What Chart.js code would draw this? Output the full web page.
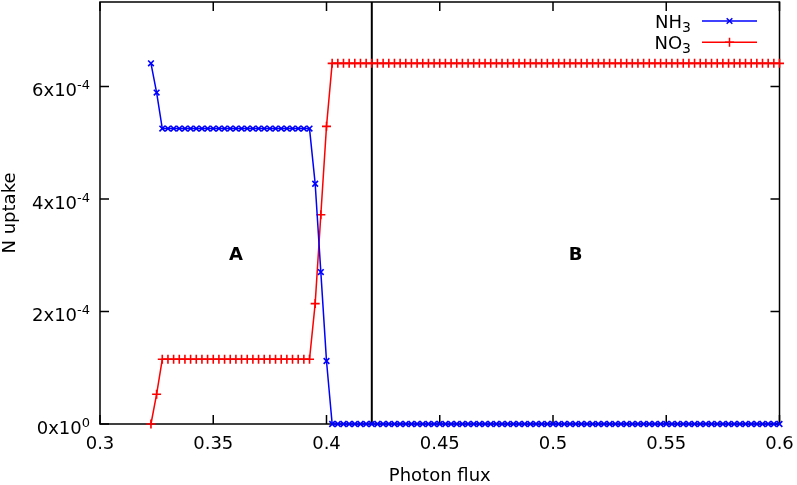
<!DOCTYPE html>
<html>
<head>
<meta charset="utf-8">
<script src="https://cdn.jsdelivr.net/npm/chart.js@4.4.0/dist/chart.umd.min.js"></script>
<style>
html, body { margin: 0; padding: 0; background: #fff; }
</style>
</head>
<body>
<canvas id="uptakeChart" width="797" height="485"></canvas>
<script>
var FONT = '"DejaVu Sans", sans-serif';

var photonFlux = [
    0.3225, 0.325, 0.3275, 0.33, 0.3325, 0.335, 0.3375, 0.34, 0.3425, 0.345,
    0.3475, 0.35, 0.3525, 0.355, 0.3575, 0.36, 0.3625, 0.365, 0.3675, 0.37,
    0.3725, 0.375, 0.3775, 0.38, 0.3825, 0.385, 0.3875, 0.39, 0.3925, 0.395,
    0.3975, 0.4, 0.4025, 0.405, 0.4075, 0.41, 0.4125, 0.415, 0.4175, 0.42,
    0.4225, 0.425, 0.4275, 0.43, 0.4325, 0.435, 0.4375, 0.44, 0.4425, 0.445,
    0.4475, 0.45, 0.4525, 0.455, 0.4575, 0.46, 0.4625, 0.465, 0.4675, 0.47,
    0.4725, 0.475, 0.4775, 0.48, 0.4825, 0.485, 0.4875, 0.49, 0.4925, 0.495,
    0.4975, 0.5, 0.5025, 0.505, 0.5075, 0.51, 0.5125, 0.515, 0.5175, 0.52,
    0.5225, 0.525, 0.5275, 0.53, 0.5325, 0.535, 0.5375, 0.54, 0.5425, 0.545,
    0.5475, 0.55, 0.5525, 0.555, 0.5575, 0.56, 0.5625, 0.565, 0.5675, 0.57,
    0.5725, 0.575, 0.5775, 0.58, 0.5825, 0.585, 0.5875, 0.59, 0.5925, 0.595,
    0.5975, 0.6
];

var nh3Uptake = [
    6.41e-4, 5.89e-4, 5.25e-4, 5.25e-4, 5.25e-4, 5.25e-4, 5.25e-4, 5.25e-4, 5.25e-4, 5.25e-4,
    5.25e-4, 5.25e-4, 5.25e-4, 5.25e-4, 5.25e-4, 5.25e-4, 5.25e-4, 5.25e-4, 5.25e-4, 5.25e-4,
    5.25e-4, 5.25e-4, 5.25e-4, 5.25e-4, 5.25e-4, 5.25e-4, 5.25e-4, 5.25e-4, 5.25e-4, 4.27e-4,
    2.70e-4, 1.12e-4, 0, 0, 0, 0, 0, 0, 0, 0,
    0, 0, 0, 0, 0, 0, 0, 0, 0, 0,
    0, 0, 0, 0, 0, 0, 0, 0, 0, 0,
    0, 0, 0, 0, 0, 0, 0, 0, 0, 0,
    0, 0, 0, 0, 0, 0, 0, 0, 0, 0,
    0, 0, 0, 0, 0, 0, 0, 0, 0, 0,
    0, 0, 0, 0, 0, 0, 0, 0, 0, 0,
    0, 0, 0, 0, 0, 0, 0, 0, 0, 0,
    0, 0
];

var no3Uptake = [
    0, 0.53e-4, 1.15e-4, 1.15e-4, 1.15e-4, 1.15e-4, 1.15e-4, 1.15e-4, 1.15e-4, 1.15e-4,
    1.15e-4, 1.15e-4, 1.15e-4, 1.15e-4, 1.15e-4, 1.15e-4, 1.15e-4, 1.15e-4, 1.15e-4, 1.15e-4,
    1.15e-4, 1.15e-4, 1.15e-4, 1.15e-4, 1.15e-4, 1.15e-4, 1.15e-4, 1.15e-4, 1.15e-4, 2.14e-4,
    3.72e-4, 5.29e-4, 6.41e-4, 6.41e-4, 6.41e-4, 6.41e-4, 6.41e-4, 6.41e-4, 6.41e-4, 6.41e-4,
    6.41e-4, 6.41e-4, 6.41e-4, 6.41e-4, 6.41e-4, 6.41e-4, 6.41e-4, 6.41e-4, 6.41e-4, 6.41e-4,
    6.41e-4, 6.41e-4, 6.41e-4, 6.41e-4, 6.41e-4, 6.41e-4, 6.41e-4, 6.41e-4, 6.41e-4, 6.41e-4,
    6.41e-4, 6.41e-4, 6.41e-4, 6.41e-4, 6.41e-4, 6.41e-4, 6.41e-4, 6.41e-4, 6.41e-4, 6.41e-4,
    6.41e-4, 6.41e-4, 6.41e-4, 6.41e-4, 6.41e-4, 6.41e-4, 6.41e-4, 6.41e-4, 6.41e-4, 6.41e-4,
    6.41e-4, 6.41e-4, 6.41e-4, 6.41e-4, 6.41e-4, 6.41e-4, 6.41e-4, 6.41e-4, 6.41e-4, 6.41e-4,
    6.41e-4, 6.41e-4, 6.41e-4, 6.41e-4, 6.41e-4, 6.41e-4, 6.41e-4, 6.41e-4, 6.41e-4, 6.41e-4,
    6.41e-4, 6.41e-4, 6.41e-4, 6.41e-4, 6.41e-4, 6.41e-4, 6.41e-4, 6.41e-4, 6.41e-4, 6.41e-4,
    6.41e-4, 6.41e-4
];

// legend names: main text + subscript
var seriesNames = [['NH', '3'], ['NO', '3']];

var xTicks = [0.3, 0.35, 0.4, 0.45, 0.5, 0.55, 0.6];
var xTickLabels = ['0.3', '0.35', '0.4', '0.45', '0.5', '0.55', '0.6'];
var yTicks = [0, 2e-4, 4e-4, 6e-4];
var yTickLabels = ['0x10', '2x10', '4x10', '6x10'];
var yTickPowers = ['0', '-4', '-4', '-4'];

var regionBoundary = 0.42;
var regionLabels = [
    { text: 'A', x: 0.36, y: 3e-4 },
    { text: 'B', x: 0.51, y: 3e-4 }
];

function toPoints(values) {
    return photonFlux.map(function (x, i) { return { x: x, y: values[i] }; });
}

function drawMarker(ctx, style, cx, cy, r) {
    ctx.beginPath();
    if (style === 'crossRot') {
        var d = r * Math.SQRT1_2;
        ctx.moveTo(cx - d, cy - d); ctx.lineTo(cx + d, cy + d);
        ctx.moveTo(cx - d, cy + d); ctx.lineTo(cx + d, cy - d);
    } else {
        ctx.moveTo(cx - r, cy); ctx.lineTo(cx + r, cy);
        ctx.moveTo(cx, cy - r); ctx.lineTo(cx, cy + r);
    }
    ctx.stroke();
}

var gnuplotLook = {
    id: 'gnuplotLook',
    beforeDatasetsDraw: function (chart) {
        var ctx = chart.ctx, a = chart.chartArea, x = chart.scales.x, y = chart.scales.y;
        ctx.save();
        ctx.strokeStyle = '#000';
        ctx.lineWidth = 1.5;

        // border and inward ticks on all sides
        ctx.strokeRect(a.left, a.top, a.right - a.left, a.bottom - a.top);
        ctx.beginPath();
        xTicks.forEach(function (v) {
            var px = x.getPixelForValue(v);
            ctx.moveTo(px, a.bottom); ctx.lineTo(px, a.bottom - 9);
            ctx.moveTo(px, a.top); ctx.lineTo(px, a.top + 9);
        });
        yTicks.forEach(function (v) {
            var py = y.getPixelForValue(v);
            ctx.moveTo(a.left, py); ctx.lineTo(a.left + 9, py);
            ctx.moveTo(a.right, py); ctx.lineTo(a.right - 9, py);
        });
        ctx.stroke();

        // line between regions A and B
        var bx = x.getPixelForValue(regionBoundary);
        ctx.lineWidth = 2;
        ctx.beginPath();
        ctx.moveTo(bx, a.top); ctx.lineTo(bx, a.bottom);
        ctx.stroke();

        ctx.fillStyle = '#000';
        ctx.font = 'bold 18px ' + FONT;
        ctx.textAlign = 'center';
        ctx.textBaseline = 'middle';
        regionLabels.forEach(function (r) {
            ctx.fillText(r.text, x.getPixelForValue(r.x), y.getPixelForValue(r.y));
        });

        // y tick labels, power of ten as superscript
        ctx.textBaseline = 'alphabetic';
        ctx.textAlign = 'left';
        yTicks.forEach(function (v, i) {
            var py = y.getPixelForValue(v);
            ctx.font = '13px ' + FONT;
            var supW = ctx.measureText(yTickPowers[i]).width;
            ctx.font = '18px ' + FONT;
            var mainW = ctx.measureText(yTickLabels[i]).width;
            var right = a.left - 10;
            ctx.fillText(yTickLabels[i], right - supW - mainW, py + 10);
            ctx.font = '13px ' + FONT;
            ctx.fillText(yTickPowers[i], right - supW, py + 3);
        });
        ctx.restore();
    },
    afterDraw: function (chart) {
        var ctx = chart.ctx;
        ctx.save();
        chart.data.datasets.forEach(function (ds, i) {
            var rowY = 21 + i * 21.3;
            ctx.fillStyle = '#000';
            ctx.textBaseline = 'alphabetic';
            ctx.textAlign = 'left';
            ctx.font = '14px ' + FONT;
            var subW = ctx.measureText(seriesNames[i][1]).width;
            ctx.font = '18px ' + FONT;
            var mainW = ctx.measureText(seriesNames[i][0]).width;
            var end = 691;
            ctx.fillText(seriesNames[i][0], end - subW - mainW, rowY + 6.5);
            ctx.font = '14px ' + FONT;
            ctx.fillText(seriesNames[i][1], end - subW, rowY + 11);

            ctx.strokeStyle = ds.borderColor;
            ctx.lineWidth = 1.5;
            ctx.beginPath();
            ctx.moveTo(702, rowY); ctx.lineTo(757, rowY);
            ctx.stroke();
            drawMarker(ctx, ds.pointStyle, 729.5, rowY, ds.pointRadius);
        });
        ctx.restore();
    }
};

var ctx = document.getElementById('uptakeChart').getContext('2d');

new Chart(ctx, {
    type: 'line',
    data: {
        datasets: [{
            label: 'NH3',
            data: toPoints(nh3Uptake),
            borderColor: '#0000ff',
            backgroundColor: '#0000ff',
            borderWidth: 1.5,
            pointStyle: 'crossRot',
            pointRadius: 4,
            pointBorderWidth: 1.6,
            pointBorderColor: '#0000ff',
            tension: 0,
            fill: false,
            clip: false
        }, {
            label: 'NO3',
            data: toPoints(no3Uptake),
            borderColor: '#ff0000',
            backgroundColor: '#ff0000',
            borderWidth: 1.5,
            pointStyle: 'cross',
            pointRadius: 4.5,
            pointBorderWidth: 1.6,
            pointBorderColor: '#ff0000',
            tension: 0,
            fill: false,
            clip: false
        }]
    },
    options: {
        responsive: false,
        animation: false,
        layout: { autoPadding: false, padding: { top: 2, right: 17.5, left: 0, bottom: 0 } },
        plugins: {
            legend: { display: false },
            tooltip: { enabled: false }
        },
        scales: {
            x: {
                type: 'linear',
                min: 0.3,
                max: 0.6,
                grid: { display: false, drawTicks: false },
                border: { display: false },
                afterBuildTicks: function (scale) {
                    scale.ticks = xTicks.map(function (v) { return { value: v }; });
                },
                afterFit: function (scale) {
                    scale.height = 61;
                    scale.paddingLeft = 0;
                    scale.paddingRight = 0;
                },
                ticks: {
                    autoSkip: false,
                    maxRotation: 0,
                    padding: 10,
                    color: '#000',
                    font: { family: FONT, size: 18 },
                    callback: function (value, index) { return xTickLabels[index]; }
                },
                title: {
                    display: true,
                    text: 'Photon flux',
                    color: '#000',
                    font: { family: FONT, size: 18, lineHeight: 1 },
                    padding: { top: 0, bottom: 0 }
                }
            },
            y: {
                min: 0,
                max: 7.5e-4,
                grid: { display: false, drawTicks: false },
                border: { display: false },
                afterBuildTicks: function (scale) {
                    scale.ticks = yTicks.map(function (v) { return { value: v }; });
                },
                afterFit: function (scale) {
                    scale.width = 100;
                    scale.paddingTop = 0;
                    scale.paddingBottom = 0;
                },
                ticks: { display: false },
                title: {
                    display: true,
                    text: 'N uptake',
                    color: '#000',
                    font: { family: FONT, size: 18, lineHeight: 1 },
                    padding: { top: 1, bottom: 0 }
                }
            }
        }
    },
    plugins: [gnuplotLook]
});
</script>
</body>
</html>
